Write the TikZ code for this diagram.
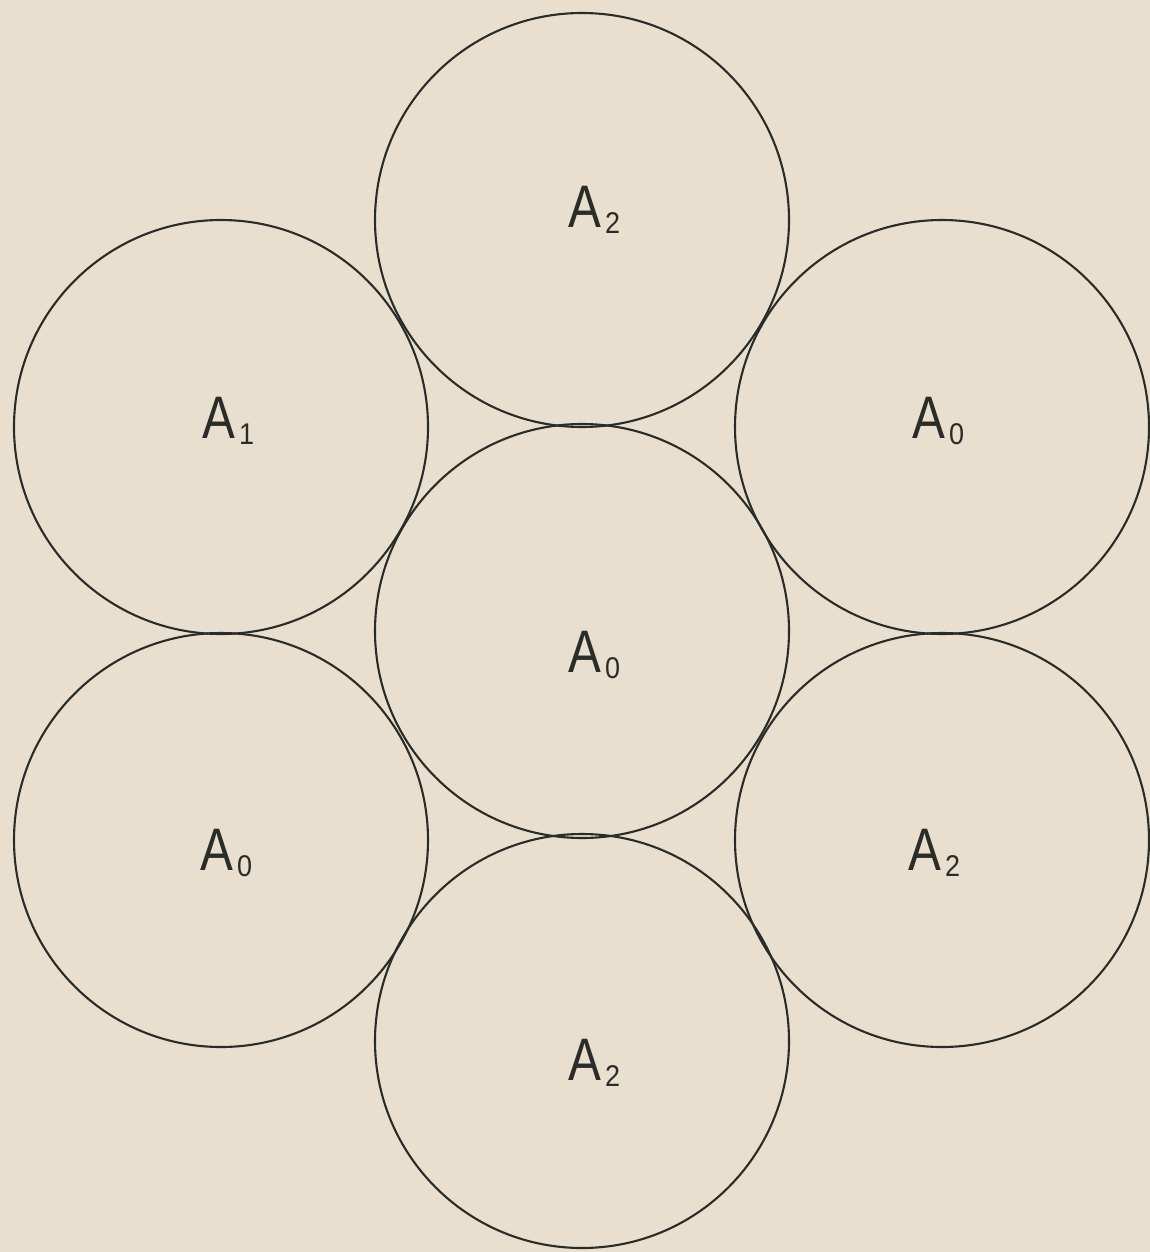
\documentclass[tikz,border=0pt]{standalone}
\usepackage{fontspec}
\setmainfont{Liberation Sans}
\usepackage{graphicx}
\definecolor{paper}{HTML}{E8DFCF}
\definecolor{ink}{HTML}{2A2C28}
\newcommand{\sublab}[1]{\scalebox{0.82}[1]{\fontsize{60}{60}\selectfont A}\kern4pt\raisebox{-6pt}{\scalebox{0.9}[1]{\fontsize{30}{30}\selectfont #1}}}
\begin{document}
\begin{tikzpicture}[x=1pt,y=-1pt,
  disk/.style={circle,draw=ink,line width=2.1pt,minimum size=414pt,inner sep=0pt},
  lbl/.style={anchor=base west,inner sep=0pt,text=ink}]
\fill[paper] (0,0) rectangle (1150,1252);
\useasboundingbox (0,0) rectangle (1150,1252);
% circles
\node[disk] (c)  at (582,631) {};
\node[disk] (t)  at (582,220) {};
\node[disk] (b)  at (582,1041) {};
\node[disk] (tl) at (221,427) {};
\node[disk] (bl) at (221,840) {};
\node[disk] (tr) at (942,427) {};
\node[disk] (br) at (942,840) {};
% labels
\node[lbl] (lt)  at (568,227)  {\sublab{2}};
\node[lbl] (ltl) at (202,438)  {\sublab{1}};
\node[lbl] (ltr) at (912,438)  {\sublab{0}};
\node[lbl] (lc)  at (568,672)  {\sublab{0}};
\node[lbl] (lbl) at (200,870)  {\sublab{0}};
\node[lbl] (lbr) at (908,870)  {\sublab{2}};
\node[lbl] (lb)  at (568,1080) {\sublab{2}};
\end{tikzpicture}
\end{document}
